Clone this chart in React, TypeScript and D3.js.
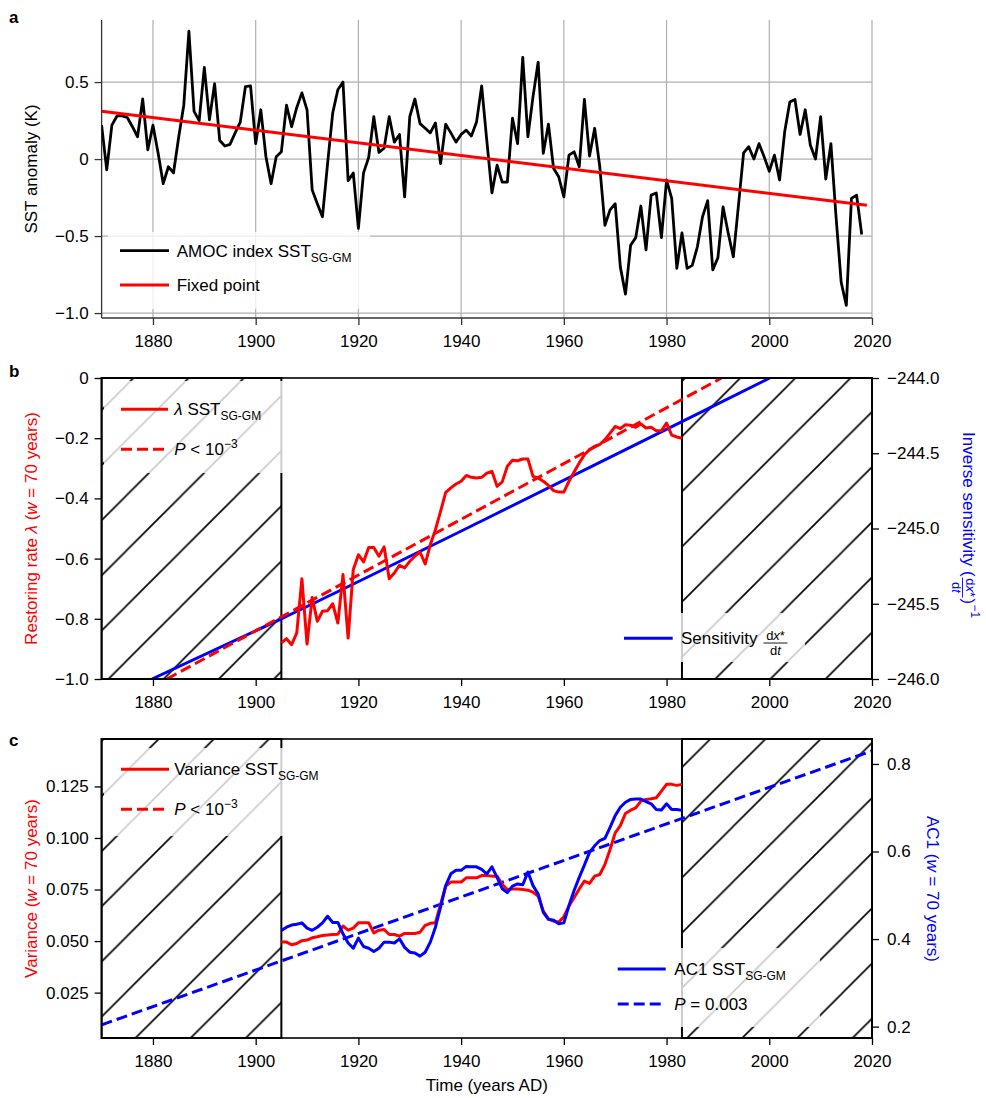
import React, { useEffect, useRef } from 'react';
import * as d3 from 'd3';

const W = 986;
const H = 1098;
const FONT = '"Liberation Sans", Arial, Helvetica, sans-serif';
const RED = '#ff0000';
const BLUE = '#0000ff';

// panel a: AMOC index SST SG-GM, one value per year from 1870
const sstStart = 1870;
const sstValues = [
  0.22, -0.07, 0.22, 0.28, 0.28, 0.27, 0.21, 0.145, 0.39, 0.06,
  0.22, 0.04, -0.16, -0.05, -0.09, 0.14, 0.35, 0.83, 0.31, 0.25,
  0.595, 0.255, 0.49, 0.12, 0.085, 0.095, 0.17, 0.24, 0.47, 0.475,
  0.1, 0.32, 0.015, -0.16, 0.015, 0.047, 0.35, 0.21, 0.335, 0.43,
  0.32, -0.2, -0.29, -0.375, -0.03, 0.3, 0.45, 0.5, -0.14, -0.09,
  -0.45, -0.09, 0.01, 0.275, 0.043, 0.07, 0.275, 0.11, 0.16, -0.245,
  0.275, 0.39, 0.23, 0.2, 0.17, 0.235, -0.03, 0.227, 0.17, 0.11,
  0.16, 0.188, 0.15, 0.24, 0.475, 0.12, -0.22, -0.04, -0.15, -0.15,
  0.265, 0.1, 0.66, 0.145, 0.405, 0.63, 0.037, 0.227, -0.06, -0.115,
  -0.245, 0.026, 0.047, -0.05, 0.387, 0.02, 0.2, -0.05, -0.43, -0.33,
  -0.29, -0.7, -0.877, -0.56, -0.51, -0.305, -0.59, -0.234, -0.22, -0.51,
  -0.136, -0.255, -0.71, -0.48, -0.71, -0.69, -0.57, -0.375, -0.27, -0.72,
  -0.64, -0.31, -0.48, -0.635, -0.3, 0.04, 0.08, 0.0, 0.1, 0.015,
  -0.08, 0.026, -0.136, 0.177, 0.37, 0.387, 0.16, 0.32, 0.09, 0.0,
  0.275, -0.13, 0.1, -0.375, -0.8, -0.95, -0.255, -0.234, -0.49,
];
const fixedPoint: [number, number][] = [[1870, 0.31], [2019, -0.3]];

// panel b: restoring rate, windows centred 1905..1983
const windowStart = 1905;
const lambdaValues = [
  -0.88, -0.866, -0.886, -0.847, -0.667, -0.884, -0.729, -0.808, -0.775, -0.773,
  -0.75, -0.814, -0.653, -0.864, -0.637, -0.587, -0.611, -0.563, -0.563, -0.592,
  -0.561, -0.667, -0.648, -0.622, -0.631, -0.609, -0.592, -0.578, -0.618, -0.554,
  -0.504, -0.443, -0.38, -0.365, -0.352, -0.343, -0.324, -0.33, -0.332, -0.33,
  -0.316, -0.31, -0.36, -0.345, -0.293, -0.273, -0.275, -0.269, -0.269, -0.327,
  -0.332, -0.343, -0.357, -0.374, -0.379, -0.379, -0.343, -0.312, -0.282, -0.255,
  -0.238, -0.227, -0.221, -0.205, -0.183, -0.161, -0.168, -0.155, -0.157, -0.164,
  -0.153, -0.166, -0.164, -0.175, -0.175, -0.15, -0.19, -0.196, -0.2,
];
const lambdaFit: [number, number][] = [[1882.7, -1.0], [1990.7, 0.0]];
const sensitivity: [number, number][] = [
  [1879.8, -246.0], [1905, -245.6], [1943.7, -244.955], [1983, -244.29], [2000.1, -244.0],
];

// panel c: variance and lag-1 autocorrelation, 1905..1983
const varianceValues = [
  0.0495, 0.0495, 0.0482, 0.0488, 0.0502, 0.0505, 0.0516, 0.0521, 0.0527, 0.053,
  0.0532, 0.0533, 0.0573, 0.0553, 0.0563, 0.0589, 0.0589, 0.0589, 0.054, 0.0553,
  0.0556, 0.0532, 0.0532, 0.0524, 0.0537, 0.0537, 0.0537, 0.0543, 0.0576, 0.0586,
  0.0589, 0.0678, 0.0767, 0.0786, 0.0786, 0.0786, 0.0807, 0.0807, 0.0807, 0.0818,
  0.0818, 0.0815, 0.0815, 0.0775, 0.075, 0.0753, 0.0753, 0.075, 0.0747, 0.0737,
  0.0718, 0.0645, 0.0608, 0.0597, 0.0592, 0.0618, 0.067, 0.071, 0.0753, 0.0791,
  0.078, 0.0815, 0.0823, 0.0872, 0.0944, 0.1025, 0.106, 0.1119, 0.1135, 0.1146,
  0.1179, 0.1187, 0.119, 0.1195, 0.1227, 0.126, 0.126, 0.1255, 0.126,
];
const ac1Values = [
  0.4195, 0.427, 0.432, 0.434, 0.437, 0.425, 0.42, 0.427, 0.437, 0.452,
  0.438, 0.438, 0.412, 0.391, 0.379, 0.402, 0.383, 0.379, 0.3715, 0.379,
  0.393, 0.393, 0.391, 0.4005, 0.381, 0.37, 0.368, 0.361, 0.37, 0.393,
  0.427, 0.473, 0.522, 0.549, 0.557, 0.557, 0.566, 0.565, 0.565, 0.559,
  0.549, 0.565, 0.541, 0.515, 0.506, 0.521, 0.526, 0.524, 0.553, 0.522,
  0.503, 0.461, 0.445, 0.443, 0.435, 0.437, 0.4765, 0.511, 0.541, 0.569,
  0.598, 0.613, 0.625, 0.63, 0.655, 0.682, 0.701, 0.7125, 0.719, 0.72,
  0.72, 0.714, 0.709, 0.6957, 0.695, 0.709, 0.696, 0.696, 0.694,
];
const ac1Fit: [number, number][] = [[1870, 0.204], [2020, 0.83]];

const xTicks = [1880, 1900, 1920, 1940, 1960, 1980, 2000, 2020];
const aTicks = [0.5, 0, -0.5, -1.0];
const bTicks = [0, -0.2, -0.4, -0.6, -0.8, -1.0];
const bRightTicks = [-244.0, -244.5, -245.0, -245.5, -246.0];
const cTicks = [0.025, 0.05, 0.075, 0.1, 0.125];
const cRightTicks = [0.2, 0.4, 0.6, 0.8];
const hatchSpans: [number, number][] = [[1870, 1905], [1983, 2020]];

type Part = { t: string; it?: boolean; sub?: boolean; sup?: boolean };

const minus = (s: string) => s.replace('-', '\u2013');

const rich = (text: any, parts: Part[]) => {
  let shift = 0;
  parts.forEach((p) => {
    const target = p.sub ? 5 : p.sup ? -7 : 0;
    const ts = text.append('tspan').text(p.t).attr('dy', target - shift);
    shift = target;
    if (p.sub || p.sup) ts.attr('font-size', 12);
    if (p.it) ts.attr('font-style', 'italic');
  });
  return text;
};

const App = () => {
  const svgRef = useRef<SVGSVGElement>(null);

  useEffect(() => {
    if (!svgRef.current) return;
    const svg = d3.select(svgRef.current);
    svg.selectAll('*').remove();
    svg.attr('width', W).attr('height', H)
      .style('font-family', FONT)
      .style('font-size', '17px');

    svg.append('rect').attr('width', W).attr('height', H).attr('fill', '#fff');

    const x = d3.scaleLinear().domain([1870, 2020]).range([101.6, 872]);
    const yA = d3.scaleLinear().domain([-1.032, 0.903]).range([318, 20]);
    const yB = d3.scaleLinear().domain([-1, 0]).range([679, 378]);
    const yB2 = d3.scaleLinear().domain([-246, -244]).range([679, 378]);
    const yC = d3.scaleLinear().domain([0.003, 0.148]).range([1038, 739]);
    const yC2 = d3.scaleLinear().domain([0.174, 0.857]).range([1038, 739]);

    const [x0, x1] = x.range();
    const defs = svg.append('defs');
    const s = 55.16;
    const pat = defs.append('pattern').attr('id', 'hatch')
      .attr('patternUnits', 'userSpaceOnUse')
      .attr('x', 15.16).attr('y', 0)
      .attr('width', s).attr('height', s);
    pat.append('rect').attr('width', s).attr('height', s).attr('fill', '#fff');
    pat.append('path')
      .attr('d', `M-2,${s + 2}L${s + 2},-2M-2,2L2,-2M${s - 2},${s + 2}L${s + 2},${s - 2}`)
      .attr('stroke', '#000').attr('stroke-width', 1.6);

    const clip = (id: string, y: any) => {
      const [b, t] = y.range();
      defs.append('clipPath').attr('id', id).append('rect')
        .attr('x', x0).attr('y', t).attr('width', x1 - x0).attr('height', b - t);
      return `url(#${id})`;
    };

    const styleAxis = (g: any, color = '#000') => {
      g.select('.domain').remove();
      g.attr('font-size', null).attr('font-family', null);
      g.selectAll('line').attr('stroke', color).attr('stroke-width', 1.3);
      g.selectAll('text').attr('fill', '#000');
    };

    const fmt1 = (d: number) => (d === 0 ? '0' : minus(d3.format('.1f')(d)));

    const xAxis = (y: any, color = '#000') => {
      const g = svg.append('g').attr('transform', `translate(0,${y.range()[0]})`)
        .call(d3.axisBottom(x).tickValues(xTicks).tickSize(7).tickPadding(10).tickFormat(d3.format('d') as any));
      styleAxis(g, color);
    };

    const lineXY = (y: any) => d3.line<[number, number]>().x((d) => x(d[0])).y((d) => y(d[1]));
    const series = (start: number, vals: number[]) => vals.map((v, i) => [start + i, v] as [number, number]);

    const legendBox = (bx: number, by: number, bw: number, bh: number) => {
      svg.append('rect').attr('x', bx).attr('y', by).attr('width', bw).attr('height', bh)
        .attr('rx', 4).attr('fill', '#fff').attr('fill-opacity', 0.8);
    };
    const legendLine = (lx0: number, lx1: number, ly: number, color: string, dashed = false, width = 3) => {
      svg.append('line').attr('x1', lx0).attr('x2', lx1).attr('y1', ly).attr('y2', ly)
        .attr('stroke', color).attr('stroke-width', width)
        .attr('stroke-dasharray', dashed ? '11,5' : null);
    };
    const legendText = (tx: number, ty: number, parts: Part[]) =>
      rich(svg.append('text').attr('x', tx).attr('y', ty + 6).attr('fill', '#000'), parts);

    // ---------- panel a ----------
    const gridA = svg.append('g').attr('stroke', '#b0b0b0').attr('stroke-width', 1.2);
    xTicks.forEach((t) => gridA.append('line').attr('x1', x(t)).attr('x2', x(t)).attr('y1', 20).attr('y2', 318));
    aTicks.forEach((t) => gridA.append('line').attr('x1', x0).attr('x2', x1).attr('y1', yA(t)).attr('y2', yA(t)));

    svg.append('line').attr('x1', x0).attr('x2', x0).attr('y1', 20).attr('y2', 318)
      .attr('stroke', '#333').attr('stroke-width', 1.3);
    svg.append('line').attr('x1', x0).attr('x2', x1).attr('y1', 318).attr('y2', 318)
      .attr('stroke', '#333').attr('stroke-width', 1.3);

    const gA = svg.append('g').attr('transform', `translate(${x0},0)`)
      .call(d3.axisLeft(yA).tickValues(aTicks).tickSize(7).tickPadding(6).tickFormat(fmt1 as any));
    styleAxis(gA, '#333');
    xAxis(yA, '#333');

    const clipA = clip('clipA', yA);
    svg.append('path').datum(series(sstStart, sstValues)).attr('d', lineXY(yA))
      .attr('fill', 'none').attr('stroke', '#000').attr('stroke-width', 2.8)
      .attr('stroke-linejoin', 'round').attr('clip-path', clipA);
    svg.append('path').datum(fixedPoint).attr('d', lineXY(yA))
      .attr('fill', 'none').attr('stroke', RED).attr('stroke-width', 3).attr('clip-path', clipA);

    legendBox(108, 232, 262, 77);
    legendLine(120, 169, 250.7, '#000', false, 2.8);
    legendText(176.7, 250.7, [{ t: 'AMOC index SST' }, { t: 'SG-GM', sub: true }]);
    legendLine(120, 169, 285, RED);
    legendText(176.7, 285, [{ t: 'Fixed point' }]);

    svg.append('text').attr('transform', 'translate(37,169) rotate(-90)')
      .attr('text-anchor', 'middle').attr('fill', '#000').text('SST anomaly (K)');

    // ---------- hatched panels ----------
    const hatch = (y: any) => {
      const [b, t] = y.range();
      hatchSpans.forEach(([a, e]) => {
        svg.append('rect').attr('x', x(a)).attr('y', t).attr('width', x(e) - x(a)).attr('height', b - t)
          .attr('fill', 'url(#hatch)').attr('stroke', '#000').attr('stroke-width', 2);
      });
    };
    const frame = (y: any) => {
      const [b, t] = y.range();
      svg.append('rect').attr('x', x0).attr('y', t).attr('width', x1 - x0).attr('height', b - t)
        .attr('fill', 'none').attr('stroke', '#000').attr('stroke-width', 1.6);
    };

    // ---------- panel b ----------
    hatch(yB);
    const clipB = clip('clipB', yB);
    svg.append('path').datum(sensitivity).attr('d', lineXY(yB2).curve(d3.curveMonotoneX))
      .attr('fill', 'none').attr('stroke', BLUE).attr('stroke-width', 3).attr('clip-path', clipB);
    svg.append('path').datum(lambdaFit).attr('d', lineXY(yB))
      .attr('fill', 'none').attr('stroke', RED).attr('stroke-width', 3)
      .attr('stroke-dasharray', '11,5').attr('clip-path', clipB);
    svg.append('path').datum(series(windowStart, lambdaValues)).attr('d', lineXY(yB))
      .attr('fill', 'none').attr('stroke', RED).attr('stroke-width', 3)
      .attr('stroke-linejoin', 'round').attr('clip-path', clipB);
    frame(yB);

    const gB = svg.append('g').attr('transform', `translate(${x0},0)`)
      .call(d3.axisLeft(yB).tickValues(bTicks).tickSize(7).tickPadding(6).tickFormat(fmt1 as any));
    styleAxis(gB);
    const gB2 = svg.append('g').attr('transform', `translate(${x1},0)`)
      .call(d3.axisRight(yB2).tickValues(bRightTicks).tickSize(7).tickPadding(8)
        .tickFormat(((d: number) => minus(d3.format('.1f')(d))) as any));
    styleAxis(gB2);
    xAxis(yB);

    legendBox(104, 381, 186, 92);
    legendLine(121, 168, 409.3, RED);
    legendText(174.3, 409.3, [{ t: '\u03bb', it: true }, { t: ' SST' }, { t: 'SG-GM', sub: true }]);
    legendLine(121, 168, 449.3, RED, true);
    legendText(174.3, 449.3, [{ t: 'P', it: true }, { t: ' < 10' }, { t: '\u22123', sup: true }]);

    legendBox(612, 613, 193, 49);
    legendLine(624, 672.7, 638.3, BLUE);
    const sensText = legendText(681, 638.3, [{ t: 'Sensitivity' }]);
    const sensLen = (sensText.node() as SVGTextElement).getComputedTextLength();
    const fracX = 681 + sensLen + 6;
    const fracG = svg.append('g').attr('font-size', 13).attr('fill', '#000');
    rich(fracG.append('text').attr('x', fracX + 12).attr('y', 640).attr('text-anchor', 'middle'),
      [{ t: 'd' }, { t: 'x', it: true }, { t: '*' }]);
    rich(fracG.append('text').attr('x', fracX + 12).attr('y', 655).attr('text-anchor', 'middle'),
      [{ t: 'd' }, { t: 't', it: true }]);
    fracG.append('line').attr('x1', fracX).attr('x2', fracX + 24).attr('y1', 643).attr('y2', 643)
      .attr('stroke', '#000').attr('stroke-width', 0.9);

    rich(svg.append('text').attr('transform', 'translate(37,528.5) rotate(-90)')
      .attr('text-anchor', 'middle').attr('fill', RED),
      [{ t: 'Restoring rate ' }, { t: '\u03bb', it: true }, { t: ' (' }, { t: 'w', it: true }, { t: ' = 70 years)' }]);

    // right label of panel b, rotated, with a fraction inside
    const rg = svg.append('g').attr('transform', 'translate(963,432) rotate(90)').attr('fill', BLUE);
    const rt = rg.append('text').attr('x', 0).attr('y', 0).text('Inverse sensitivity (');
    const rl = (rt.node() as SVGTextElement).getComputedTextLength();
    const rf = rg.append('g').attr('font-size', 13);
    rich(rf.append('text').attr('x', rl + 11).attr('y', -2.5).attr('text-anchor', 'middle'),
      [{ t: 'd' }, { t: 'x', it: true }, { t: '*' }]);
    rich(rf.append('text').attr('x', rl + 11).attr('y', 11).attr('text-anchor', 'middle'),
      [{ t: 'd' }, { t: 't', it: true }]);
    rf.append('line').attr('x1', rl + 1).attr('x2', rl + 21).attr('y1', 0.5).attr('y2', 0.5)
      .attr('stroke', BLUE).attr('stroke-width', 0.9);
    rg.append('text').attr('x', rl + 22).attr('y', 0).text(')');
    rg.append('text').attr('x', rl + 28).attr('y', -8).attr('font-size', 12).text('\u22121');

    // ---------- panel c ----------
    hatch(yC);
    const clipC = clip('clipC', yC);
    svg.append('path').datum(ac1Fit).attr('d', lineXY(yC2))
      .attr('fill', 'none').attr('stroke', BLUE).attr('stroke-width', 3)
      .attr('stroke-dasharray', '11,5').attr('clip-path', clipC);
    svg.append('path').datum(series(windowStart, varianceValues)).attr('d', lineXY(yC))
      .attr('fill', 'none').attr('stroke', RED).attr('stroke-width', 3)
      .attr('stroke-linejoin', 'round').attr('clip-path', clipC);
    svg.append('path').datum(series(windowStart, ac1Values)).attr('d', lineXY(yC2))
      .attr('fill', 'none').attr('stroke', BLUE).attr('stroke-width', 3)
      .attr('stroke-linejoin', 'round').attr('clip-path', clipC);
    frame(yC);

    const gC = svg.append('g').attr('transform', `translate(${x0},0)`)
      .call(d3.axisLeft(yC).tickValues(cTicks).tickSize(7).tickPadding(6).tickFormat(d3.format('.3f') as any));
    styleAxis(gC);
    const gC2 = svg.append('g').attr('transform', `translate(${x1},0)`)
      .call(d3.axisRight(yC2).tickValues(cRightTicks).tickSize(7).tickPadding(8).tickFormat(d3.format('.1f') as any));
    styleAxis(gC2);
    xAxis(yC);

    legendBox(104, 748, 226, 88);
    legendLine(121, 169, 769.3, RED);
    legendText(174.3, 769.3, [{ t: 'Variance SST' }, { t: 'SG-GM', sub: true }]);
    legendLine(121, 169, 809.3, RED, true);
    legendText(174.3, 809.3, [{ t: 'P', it: true }, { t: ' < 10' }, { t: '\u22123', sup: true }]);

    legendBox(608, 948, 212, 79);
    legendLine(617.7, 665.7, 969, BLUE);
    legendText(674.3, 969, [{ t: 'AC1 SST' }, { t: 'SG-GM', sub: true }]);
    legendLine(617.7, 665.7, 1004, BLUE, true);
    legendText(674.3, 1004, [{ t: 'P', it: true }, { t: ' = 0.003' }]);

    rich(svg.append('text').attr('transform', 'translate(37,888.5) rotate(-90)')
      .attr('text-anchor', 'middle').attr('fill', RED),
      [{ t: 'Variance (' }, { t: 'w', it: true }, { t: ' = 70 years)' }]);
    rich(svg.append('text').attr('transform', 'translate(927,889) rotate(90)')
      .attr('text-anchor', 'middle').attr('fill', BLUE),
      [{ t: 'AC1 (' }, { t: 'w', it: true }, { t: ' = 70 years)' }]);

    svg.append('text').attr('x', (x0 + x1) / 2).attr('y', 1091).attr('text-anchor', 'middle')
      .attr('fill', '#000').text('Time (years AD)');

    // panel letters
    [['a', 23], ['b', 377], ['c', 746]].forEach(([l, y]) => {
      svg.append('text').attr('x', 9).attr('y', y as number).attr('font-weight', 'bold')
        .attr('fill', '#000').text(l as string);
    });
  }, []);

  return <svg ref={svgRef} style={{ position: 'absolute', left: 0, top: 0 }} />;
};

export default App;
